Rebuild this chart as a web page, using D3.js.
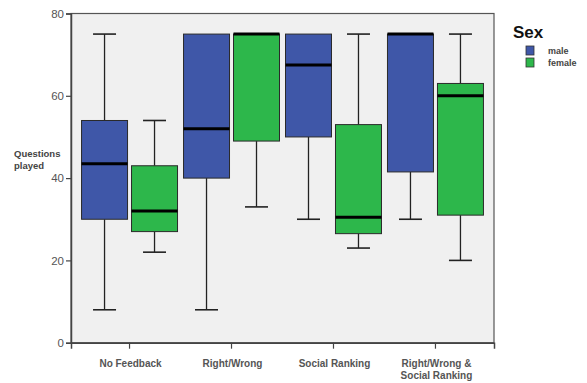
<!DOCTYPE html>
<html>
<head>
<meta charset="utf-8">
<script src="https://cdn.jsdelivr.net/npm/d3@7"></script>
<style>
  html, body { margin: 0; padding: 0; background: #fff; }
  svg { display: block; font-family: "Liberation Sans", Arial, sans-serif; }
</style>
</head>
<body>
<svg id="chart" width="587" height="383"></svg>
<script>
// Feedback conditions on the x axis
const categories = ["No Feedback", "Right/Wrong", "Social Ranking", "Right/Wrong & Social Ranking"];
const categoryLines = [["No Feedback"], ["Right/Wrong"], ["Social Ranking"], ["Right/Wrong &", "Social Ranking"]];
const sexes = ["male", "female"];
const yTicks = [0, 20, 40, 60, 80];

// Five-number summaries of questions played, per condition
const maleLow    = [8, 8, 30, 30];
const maleQ1     = [30, 40, 50, 41.5];
const maleMedian = [43.5, 52, 67.5, 75];
const maleQ3     = [54, 75, 75, 75];
const maleHigh   = [75, 75, 75, 75];

const femaleLow    = [22, 33, 23, 20];
const femaleQ1     = [27, 49, 26.5, 31];
const femaleMedian = [32, 75, 30.5, 60];
const femaleQ3     = [43, 75, 53, 63];
const femaleHigh   = [54, 75, 75, 75];

const colors = { male: "#3f57a8", female: "#2db74b" };

const series = {
  male:   { low: maleLow, q1: maleQ1, median: maleMedian, q3: maleQ3, high: maleHigh },
  female: { low: femaleLow, q1: femaleQ1, median: femaleMedian, q3: femaleQ3, high: femaleHigh }
};

const svg = d3.select("#chart");
const plot = { left: 71, right: 494, top: 13.5, bottom: 342.7 };

const x = d3.scaleBand().domain(categories).range([plot.left, plot.right])
  .paddingOuter(0.074).paddingInner(0);
const xSub = d3.scaleBand().domain(sexes).range([0, x.bandwidth()])
  .paddingInner(0.08).paddingOuter(0.06);
const y = d3.scaleLinear().domain([0, 80]).range([plot.bottom, plot.top]);

// Plot background and frame
svg.append("rect")
  .attr("x", plot.left).attr("y", plot.top)
  .attr("width", plot.right - plot.left).attr("height", plot.bottom - plot.top)
  .attr("fill", "#f0f0f0").attr("stroke", "#555").attr("stroke-width", 1.2);

// Y axis
const yAxis = svg.append("g")
  .attr("transform", `translate(${plot.left},0)`)
  .call(d3.axisLeft(y).tickValues(yTicks).tickSize(5).tickPadding(2));
yAxis.select(".domain").attr("stroke", "#444").attr("stroke-width", 1.5);
yAxis.selectAll(".tick line").attr("stroke", "#444").attr("stroke-width", 1.2);
yAxis.selectAll(".tick text").attr("fill", "#555").style("font-size", "11.5px");

// X axis
const xAxis = svg.append("g")
  .attr("transform", `translate(0,${plot.bottom})`)
  .call(d3.axisBottom(x).tickSize(6).tickFormat(""));
xAxis.select(".domain").attr("stroke", "#444").attr("stroke-width", 1.5);
xAxis.selectAll(".tick line").attr("stroke", "#444").attr("stroke-width", 1.2);

// Category labels (multi-line where needed)
categories.forEach((c, i) => {
  const t = svg.append("text")
    .attr("x", x(c) + x.bandwidth() / 2 + 1)
    .attr("y", 367)
    .attr("text-anchor", "middle")
    .attr("fill", "#555")
    .style("font-size", "10px")
    .style("font-weight", "bold");
  categoryLines[i].forEach((line, j) => {
    t.append("tspan").attr("x", x(c) + x.bandwidth() / 2 + 1).attr("dy", j === 0 ? 0 : 12).text(line);
  });
});

// Boxes
sexes.forEach(sex => {
  const s = series[sex];
  const g = svg.append("g");
  categories.forEach((c, i) => {
    const x0 = x(c) + xSub(sex);
    const w = xSub.bandwidth();
    const cx = x0 + w / 2;
    const capW = w / 2;
    const lineColor = "#222";
    // Whiskers
    if (s.high[i] > s.q3[i]) {
      g.append("line").attr("x1", cx).attr("x2", cx).attr("y1", y(s.q3[i])).attr("y2", y(s.high[i]))
        .attr("stroke", lineColor).attr("stroke-width", 1.3);
      g.append("line").attr("x1", cx - capW / 2).attr("x2", cx + capW / 2).attr("y1", y(s.high[i])).attr("y2", y(s.high[i]))
        .attr("stroke", lineColor).attr("stroke-width", 1.6);
    }
    if (s.low[i] < s.q1[i]) {
      g.append("line").attr("x1", cx).attr("x2", cx).attr("y1", y(s.q1[i])).attr("y2", y(s.low[i]))
        .attr("stroke", lineColor).attr("stroke-width", 1.3);
      g.append("line").attr("x1", cx - capW / 2).attr("x2", cx + capW / 2).attr("y1", y(s.low[i])).attr("y2", y(s.low[i]))
        .attr("stroke", lineColor).attr("stroke-width", 1.6);
    }
    // Interquartile box
    g.append("rect")
      .attr("x", x0).attr("y", y(s.q3[i]))
      .attr("width", w).attr("height", y(s.q1[i]) - y(s.q3[i]))
      .attr("fill", colors[sex]).attr("stroke", "#2a2a2a").attr("stroke-width", 1);
    // Median
    g.append("line")
      .attr("x1", x0).attr("x2", x0 + w)
      .attr("y1", y(s.median[i])).attr("y2", y(s.median[i]))
      .attr("stroke", "#000").attr("stroke-width", 3);
  });
});

// Y axis title
svg.append("text")
  .attr("x", 14).attr("y", 157)
  .attr("fill", "#444")
  .style("font-size", "9.5px").style("font-weight", "bold")
  .selectAll("tspan").data(["Questions", "played"]).join("tspan")
  .attr("x", 14).attr("dy", (d, i) => i === 0 ? 0 : 12).text(d => d);

// Legend
const legend = svg.append("g");
legend.append("text").attr("x", 513).attr("y", 38)
  .attr("fill", "#111").style("font-size", "17px").style("font-weight", "bold").text("Sex");
sexes.forEach((sex, i) => {
  legend.append("rect").attr("x", 526).attr("y", 46 + i * 12).attr("width", 8).attr("height", 9)
    .attr("fill", colors[sex]).attr("stroke", "#333").attr("stroke-width", 0.8);
  legend.append("text").attr("x", 548).attr("y", 53.5 + i * 12)
    .attr("fill", "#444").style("font-size", "9px").style("font-weight", "bold").text(sex);
});
</script>
</body>
</html>
